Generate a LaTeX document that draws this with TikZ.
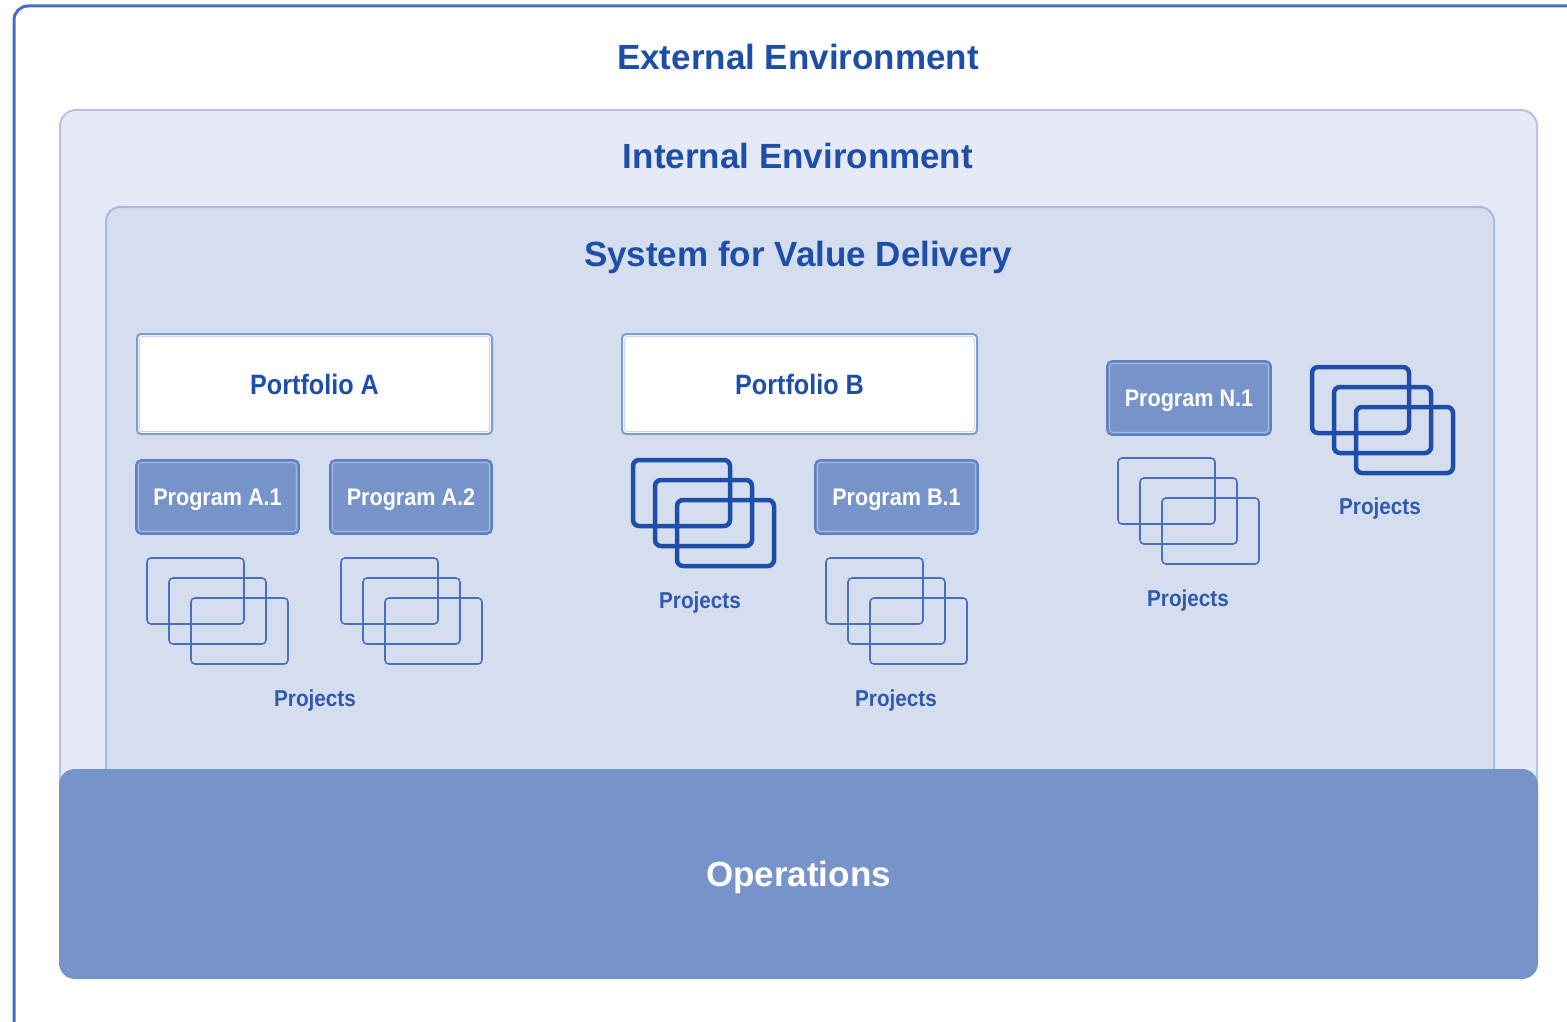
\documentclass[tikz,border=0pt]{standalone}
\usepackage{fontspec}
\setmainfont{Liberation Sans}
\newfontfamily\condfont[FakeStretch=0.9]{Liberation Sans}
\definecolor{titleblue}{HTML}{1E4FA8}
\definecolor{outerline}{HTML}{4470C0}
\definecolor{intfill}{HTML}{E5EAF6}
\definecolor{intline}{HTML}{B5C4E5}
\definecolor{sysfill}{HTML}{D5DEEF}
\definecolor{sysline}{HTML}{A7BADF}
\definecolor{opsfill}{HTML}{7794CA}
\definecolor{progline}{HTML}{5D7EC2}
\definecolor{proginner}{HTML}{A3B7E0}
\definecolor{portline}{HTML}{7F9BD3}
\definecolor{portinner}{HTML}{C9D6EF}
\definecolor{projline}{HTML}{4A6FBF}
\definecolor{projthick}{HTML}{1F4EA8}
\definecolor{projtext}{HTML}{3159AC}
\tikzset{
  titletext/.style={anchor=base, text=titleblue, font=\fontsize{35}{40}\selectfont\bfseries, inner sep=0},
  portfoliobox/.style={draw=portline, line width=2, fill=white, rounded corners=4, minimum width=355, minimum height=100, inner sep=0,
    text=titleblue, font=\condfont\fontsize{28}{32}\selectfont\bfseries, text height=20, text depth=0},
  programbox/.style={draw=progline, line width=1.6, fill=opsfill, rounded corners=5, minimum width=163, minimum height=74, inner sep=0,
    text=white, font=\condfont\fontsize{24}{28}\selectfont\bfseries, text height=17, text depth=0},
  projlabel/.style={anchor=base, text=projtext, font=\condfont\fontsize{23}{26}\selectfont\bfseries, inner sep=0},
  thinproj/.style={draw=projline, line width=1.6, rounded corners=4},
  thickproj/.style={draw=projthick, line width=4.5, rounded corners=6},
}
\newcommand{\projstack}[3]{%
  \draw[#3] (#1,#2) rectangle ++(97,66);
  \draw[#3] (#1+22,#2+20) rectangle ++(97,66);
  \draw[#3] (#1+44,#2+40) rectangle ++(97,66);
}
\newcommand{\innerline}[2]{%
  \draw[#2, line width=1, rounded corners=3] ([shift={(3.5,3.5)}]#1.north west) rectangle ([shift={(-3.5,-3.5)}]#1.south east);
}
\begin{document}
\begin{tikzpicture}[x=1pt,y=-1pt]
\useasboundingbox (0,0) rectangle (1567,1022);
\clip (0,0) rectangle (1567,1022);
% outer environment
\draw[outerline, line width=3, rounded corners=14] (14,6) rectangle (1640,1034);
\node[titletext] (ext) at (798,69.5) {External Environment};
% internal environment
\draw[draw=intline, fill=intfill, line width=2, rounded corners=16] (60,110) rectangle (1537,920);
\node[titletext] (int) at (798,169) {Internal Environment};
% system for value delivery
\draw[draw=sysline, fill=sysfill, line width=2, rounded corners=14] (106,207) rectangle (1494,880);
\node[titletext] (sys) at (798,266) {System for Value Delivery};
% operations
\node[fill=opsfill, rounded corners=16, minimum width=1479, minimum height=210, inner sep=0,
      text=white, font=\fontsize{35}{40}\selectfont\bfseries, text height=25, text depth=0] (ops) at (798.5,874) {Operations};
% portfolios
\node[portfoliobox] (pa) at (314.5,384) {Portfolio A};
\innerline{pa}{portinner}
\node[portfoliobox] (pb) at (799.5,384) {Portfolio B};
\innerline{pb}{portinner}
% programs
\node[programbox] (a1) at (217.5,497) {Program A.1};
\innerline{a1}{proginner}
\node[programbox, minimum width=162] (a2) at (411,497) {Program A.2};
\innerline{a2}{proginner}
\node[programbox] (b1) at (896.5,497) {Program B.1};
\innerline{b1}{proginner}
\node[programbox, minimum width=164] (n1) at (1189,398) {Program N.1};
\innerline{n1}{proginner}
% project stacks
\projstack{147}{558}{thinproj}
\projstack{341}{558}{thinproj}
\projstack{826}{558}{thinproj}
\projstack{1118}{458}{thinproj}
\projstack{633}{460}{thickproj}
\projstack{1312}{367}{thickproj}
% project labels
\node[projlabel] (pja) at (315,706) {Projects};
\node[projlabel] (pjb) at (700,608) {Projects};
\node[projlabel] (pjb1) at (896,706) {Projects};
\node[projlabel] (pjn1) at (1188,606) {Projects};
\node[projlabel] (pjn) at (1380,514) {Projects};
\end{tikzpicture}
\end{document}
